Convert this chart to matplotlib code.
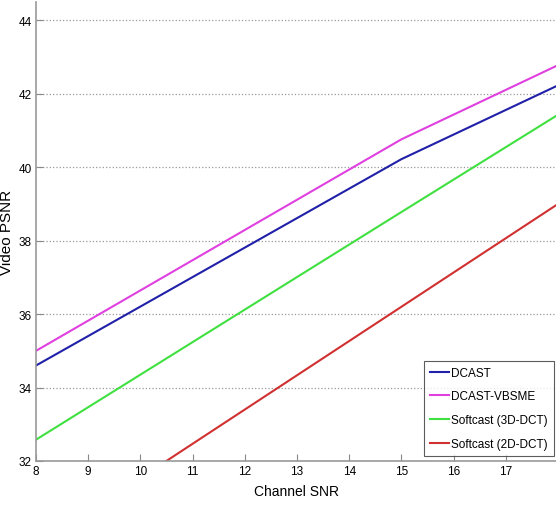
import matplotlib
matplotlib.use('Agg')
import matplotlib.pyplot as plt

plt.rcParams['font.family'] = ['Liberation Sans', 'DejaVu Sans']

# data
snr = [8, 15, 18]
dcast = [34.6, 40.22, 42.23]
dcast_vbsme = [35.0, 40.76, 42.78]
softcast_3d = [32.58, 38.78, 41.43]
softcast_2d = [29.67, 36.2, 39.0]

labels = ['DCAST', 'DCAST-VBSME', 'Softcast (3D-DCT)', 'Softcast (2D-DCT)']
colors = ['#2020a8', '#e040e0', '#40e040', '#d03030']

fig = plt.figure(figsize=(5.56, 5.10), dpi=100)
ax = fig.add_axes([36/556, 48/510, 522/556, 459/510])

for y, lab, c in zip([dcast, dcast_vbsme, softcast_3d, softcast_2d], labels, colors):
    ax.plot(snr, y, color=c, lw=1.5, label=lab)

ax.set_xlim(8, 18)
ax.set_ylim(32, 44.5)
ax.set_xticks(range(8, 18))
ax.set_yticks(range(32, 45, 2))
ax.yaxis.grid(True, linestyle=':', color='#999999', lw=0.9)
ax.tick_params(direction='in', length=5, color='#888888', labelsize=8.5, pad=3)
for s in ['top', 'right']:
    ax.spines[s].set_visible(False)
for s in ['left', 'bottom']:
    ax.spines[s].set_color('#999999')
    ax.spines[s].set_linewidth(1.2)

ax.set_xlabel('Channel SNR', fontsize=10, labelpad=5)
ax.set_ylabel('Video PSNR', fontsize=11, labelpad=3)

# legend sits against the right edge, like the reference
leg = ax.legend(loc='lower right', bbox_to_anchor=(554/556, 1 - 457/510),
                bbox_transform=fig.transFigure, fontsize=8.5, frameon=True,
                fancybox=False, handlelength=1.6, handletextpad=0.2,
                borderpad=0.5, labelspacing=1.0, borderaxespad=0)
leg.get_frame().set_edgecolor('#333333')
leg.get_frame().set_linewidth(0.8)

fig.savefig('out.png', dpi=100)
